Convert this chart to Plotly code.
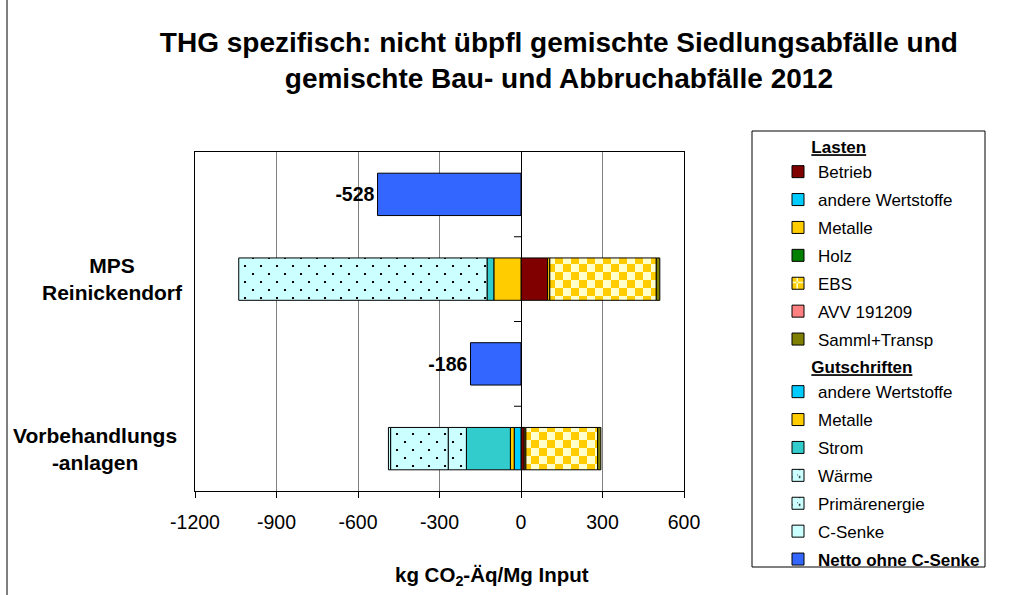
import plotly.graph_objects as go

# ---- categories (top to bottom) ----
rows = ["MPS netto", "MPS", "VB netto", "VB"]
stack_rows = ["MPS", "VB"]
net_rows = ["MPS netto", "VB netto"]
row_labels = ["MPS<br>Reinickendorf", "Vorbehandlungs<br>-anlagen"]

# ---- Lasten (kg CO2-Äq/Mg Input) ----
betrieb = [98, 12]
andere_last = [None, None]
metalle_last = [8, 6]
holz = [None, None]
ebs = [392, 264]
avv = [None, None]
samml = [13, 12]

# ---- Gutschriften ----
andere_gut = [None, -25]
metalle_gut = [-100, -14]
strom = [-25, -162]
waerme = [None, -67]
primaer = [-914, -212]
c_senke = [None, -8]

# ---- Netto ohne C-Senke ----
netto = [-528, -186]

x_ticks = [-1200, -900, -600, -300, 0, 300, 600]
x_ticktext = [str(v) for v in x_ticks]

FONT = "Liberation Sans, Arial, sans-serif"
LEG_SIZE = 17
NBSP = "&nbsp;"

CHECKER = dict(path="M0,0H8V8H0Z M8,8H16V16H8Z", size=16,
               fgcolor="#FFCC00", bgcolor="#FFFFCC", fgopacity=1)
DOTS = dict(path="M1,1H3V3H1Z M9,9H11V11H9Z", size=16,
            fgcolor="#000000", bgcolor="#CCFFFF", fgopacity=1)

# name, values, colour, pattern, group title, legend
series = [
    ("Betrieb", betrieb, "#800000", None, "Lasten", "legend"),
    ("andere Wertstoffe", andere_last, "#00CCFF", None, None, "legend"),
    ("Metalle", metalle_last, "#FFCC00", None, None, "legend"),
    ("Holz", holz, "#008000", None, None, "legend"),
    ("EBS", ebs, "#FFCC00", CHECKER, None, "legend"),
    ("AVV 191209", avv, "#FF8080", None, None, "legend"),
    ("Samml+Transp", samml, "#808000", None, None, "legend"),
    ("andere Wertstoffe", andere_gut, "#00CCFF", None, "Gutschriften", "legend2"),
    ("Metalle", metalle_gut, "#FFCC00", None, None, "legend2"),
    ("Strom", strom, "#33CCCC", None, None, "legend2"),
    ("Wärme", waerme, "#CCFFFF", DOTS, None, "legend2"),
    ("Primärenergie", primaer, "#CCFFFF", DOTS, None, "legend2"),
    ("C-Senke", c_senke, "#CCFFFF", None, None, "legend2"),
]

fig = go.Figure()

for i, (name, vals, color, pattern, group_title, leg) in enumerate(series):
    marker = dict(color=color, line=dict(color="#000000", width=1))
    if pattern:
        marker["pattern"] = pattern
    kw = {}
    if group_title:
        kw["legendgrouptitle"] = dict(
            text=NBSP * 6 + f"<b><u>{group_title}</u></b>",
            font=dict(family=FONT, size=LEG_SIZE, color="#000000"))
    fig.add_trace(go.Bar(
        y=stack_rows, x=vals, name=name, orientation="h",
        marker=marker, legend=leg, legendgroup=f"g{i}", hoverinfo="skip", **kw))

fig.add_trace(go.Bar(
    y=net_rows, x=netto, name="<b>Netto ohne C-Senke</b>", orientation="h",
    marker=dict(color="#3366FF", line=dict(color="#000000", width=1)),
    text=[str(v) for v in netto], textposition="outside",
    textfont=dict(family=FONT, size=19.5, color="#000000", weight="bold"),
    cliponaxis=False, legend="legend2", legendgroup="netto", hoverinfo="skip"))

# category labels beside the stacked bars
label_x = [-0.1677, -0.2055]
for row, text, lx in zip(stack_rows, row_labels, label_x):
    fig.add_annotation(x=lx, xref="paper", y=row, yref="y", text=f"<b>{text}</b>",
                       showarrow=False, xanchor="center", yanchor="middle", align="center",
                       font=dict(family=FONT, size=21, color="#000000"))

# axis title
fig.add_annotation(x=0.607, xref="paper", y=-0.251, yref="paper",
                   text="<b>kg CO<sub>2</sub>-Äq/Mg Input</b>", showarrow=False,
                   xanchor="center", yanchor="middle",
                   font=dict(family=FONT, size=20.5, color="#000000"))

shapes = []
# category tick marks on the zero line
for k in range(1, len(rows)):
    shapes.append(dict(type="line", xref="x", xsizemode="pixel", xanchor=0,
                       x0=-7, x1=0, yref="y", y0=k - 0.5, y1=k - 0.5,
                       line=dict(color="#000000", width=1)))
# legend frame
shapes.append(dict(type="rect", xref="paper", yref="paper",
                   x0=(752 - 195) / 489, x1=(985 - 195) / 489,
                   y0=(491 - 567) / 339, y1=(491 - 131) / 339,
                   line=dict(color="#000000", width=1), fillcolor="rgba(0,0,0,0)"))
# chart frame, left edge
shapes.append(dict(type="line", xref="paper", yref="paper",
                   x0=(7 - 195) / 489, x1=(7 - 195) / 489,
                   y0=(491 - 600) / 339, y1=(491 + 5) / 339,
                   line=dict(color="#000000", width=1)))

legend_common = dict(x=(778 - 195) / 489, xanchor="left", yanchor="top",
                     traceorder="grouped", tracegroupgap=2.8, borderwidth=0,
                     bgcolor="rgba(0,0,0,0)",
                     font=dict(family=FONT, size=LEG_SIZE, color="#000000"))

fig.update_layout(
    width=1035, height=595,
    margin=dict(l=195, r=351, t=152, b=104),
    paper_bgcolor="#FFFFFF", plot_bgcolor="#FFFFFF",
    barmode="relative", bargap=0.5,
    font=dict(family=FONT, color="#000000"),
    title=dict(text="<b>THG spezifisch: nicht übpfl gemischte Siedlungsabfälle und<br>"
                    "gemischte Bau- und Abbruchabfälle 2012</b>",
               x=0.540, xanchor="center", y=0.9134, yanchor="middle",
               font=dict(family=FONT, size=28, color="#000000")),
    xaxis=dict(range=[-1200, 600], tickvals=x_ticks, ticktext=x_ticktext,
               ticks="outside", ticklen=6,
               tickcolor="#000000", showgrid=True, gridcolor="#808080", gridwidth=1,
               zeroline=True, zerolinecolor="#000000", zerolinewidth=1,
               showline=True, linecolor="#000000", linewidth=1, mirror=True,
               tickfont=dict(family=FONT, size=19.5, color="#000000"),
               ticklabelstandoff=8, fixedrange=True),
    yaxis=dict(type="category", categoryorder="array", categoryarray=rows,
               autorange="reversed", showticklabels=False, ticks="",
               showgrid=False, showline=True, linecolor="#000000", linewidth=1,
               mirror=True, fixedrange=True),
    legend=dict(y=(491 - 129) / 339, **legend_common),
    legend2=dict(y=(491 - 349) / 339, **legend_common),
    shapes=shapes,
    showlegend=True,
)

fig.write_html("out.html")
